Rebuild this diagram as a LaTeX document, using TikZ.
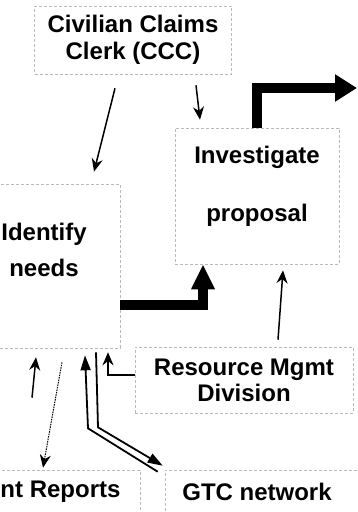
\documentclass[tikz,border=0pt]{standalone}
\usepackage{fontspec}
\setmainfont{Liberation Sans}
\usetikzlibrary{positioning, arrows.meta, calc}

\begin{document}
\begin{tikzpicture}[
    x=1pt, y=-1pt,
    box/.style={rectangle, draw=gray!55, dash pattern=on 3pt off 2pt, line width=0.6pt, inner sep=0pt},
    txt/.style={align=center, font=\fontsize{24}{27}\selectfont\bfseries},
    flowarrow/.style={-{Stealth[length=13pt, width=11pt]}, line width=1.5pt},
    bigflow/.style={-{Triangle[length=22pt, width=26pt]}, line width=10pt, line join=miter},
    pipe/.style={line width=1.8pt, -{Triangle[length=15pt, width=10pt]}}
]
\useasboundingbox (0,0) rectangle (358,512);

% Boxes
\node[box, txt, minimum width=197pt, minimum height=68pt] (ccc) at (133,40) {Civilian Claims\\Clerk (CCC)};
\node[box, minimum width=164pt, minimum height=136pt] (investigate) at (257,196) {};
\node[txt, font=\fontsize{24}{58}\selectfont\bfseries] (investigate text) at (257,186) {Investigate\\proposal};
\node[box, minimum width=140pt, minimum height=164pt] (identify) at (50,266) {};
\node[txt, font=\fontsize{24}{36}\selectfont\bfseries] (identify text) at (44,250) {Identify\\needs};
\node[box, txt, font=\fontsize{24}{26}\selectfont\bfseries, minimum width=218pt, minimum height=66pt] (resource) at (244,380) {Resource Mgmt\\Division};
\node[box, minimum width=206pt, minimum height=60pt] (gtc) at (268,500) {};
\node[txt] (gtc text) at (257,492) {GTC network};
\node[box, minimum width=160pt, minimum height=60pt] (reports) at (60,500) {};
\node[txt, anchor=east] (reports text) at (124,492) {nt Reports};

% Arrows
\coordinate (exit) at (357,88);
\draw[flowarrow] ($(ccc.south)+(-18,14)$) -- ($(identify.north)+(44,-12)$);
\draw[flowarrow] ($(ccc.south)+(63,11)$) -- ($(investigate.north)+(-57,-8)$);
\draw[bigflow] (investigate.north) |- (exit);
\draw[bigflow, -{Triangle[length=25pt, width=22pt]}] ($(identify.east)+(0,39)$) -| ($(investigate.south)+(-54,0)$);
\draw[flowarrow] ($(resource.north)+(34,-7)$) -- ($(investigate.south)+(26,6)$);
\draw[flowarrow] ($(resource.west)+(0,-5)$) -| ($(identify.south)+(58,4)$);
\draw[flowarrow] ($(reports.north)+(-28,-72)$) -- ($(identify.south)+(-14,9)$);
\draw[flowarrow, densely dotted, line width=1pt] ($(identify.south)+(12,14)$) -- ($(reports.north)+(-17,-2)$);

% Links to the GTC network
\draw[pipe] ($(gtc.north west)+(-7,2)$) -- ($(identify.south)+(38,80)$) -- ($(identify.south)+(35,7)$);
\draw[pipe] ($(identify.south)+(46,4)$) -- ($(identify.south)+(48,79)$) -- ($(gtc.north west)+(-2,-4)$);

\end{tikzpicture}
\end{document}
